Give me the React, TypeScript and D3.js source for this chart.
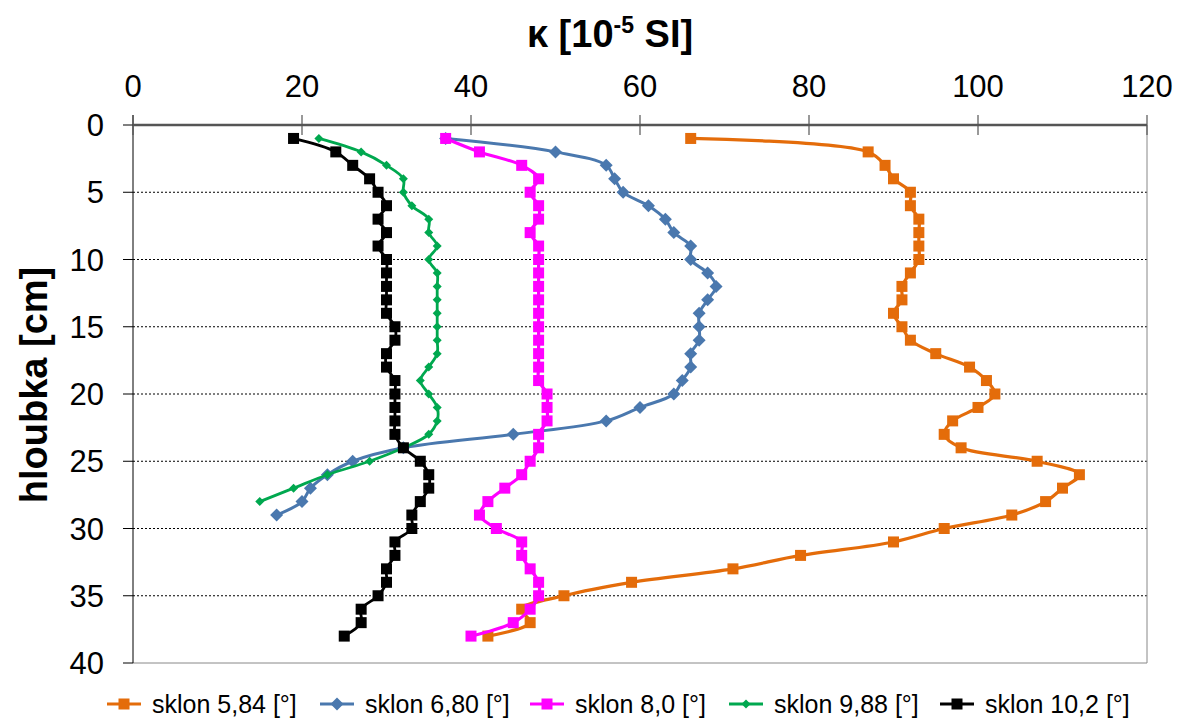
import React, { useEffect, useRef } from 'react';
import * as d3 from 'd3';

// hloubka [cm]
const depths = [1, 2, 3, 4, 5, 6, 7, 8, 9, 10, 11, 12, 13, 14, 15, 16, 17, 18, 19, 20,
  21, 22, 23, 24, 25, 26, 27, 28, 29, 30, 31, 32, 33, 34, 35, 36, 37, 38];

const sklon584 = [66, 87, 89, 90, 92, 92, 93, 93, 93, 93, 92, 91, 91, 90, 91, 92, 95, 99, 101, 102,
  100, 97, 96, 98, 107, 112, 110, 108, 104, 96, 90, 79, 71, 59, 51, 46, 47, 42];
const sklon680 = [37, 50, 56, 57, 58, 61, 63, 64, 66, 66, 68, 69, 68, 67, 67, 67, 66, 66, 65, 64,
  60, 56, 45, 32, 26, 23, 21, 20, 17];
const sklon80 = [37, 41, 46, 48, 47, 48, 48, 47, 48, 48, 48, 48, 48, 48, 48, 48, 48, 48, 48, 49,
  49, 49, 48, 48, 47, 46, 44, 42, 41, 43, 46, 46, 47, 48, 48, 47, 45, 40];
const sklon988 = [22, 27, 30, 32, 32, 33, 35, 35, 36, 35, 36, 36, 36, 36, 36, 36, 36, 35, 34, 35,
  36, 36, 35, 32, 28, 23, 19, 15];
const sklon102 = [19, 24, 26, 28, 29, 30, 29, 30, 29, 30, 30, 30, 30, 30, 31, 31, 30, 30, 31, 31,
  31, 31, 31, 32, 34, 35, 35, 34, 33, 33, 31, 31, 30, 30, 29, 27, 27, 25];

const seriesNames = ['sklon 5,84 [°]', 'sklon 6,80 [°]', 'sklon 8,0 [°]', 'sklon 9,88 [°]', 'sklon 10,2 [°]'];
const xTicks = [0, 20, 40, 60, 80, 100, 120];
const yTicks = [0, 5, 10, 15, 20, 25, 30, 35, 40];

const series = [
  { name: seriesNames[0], values: sklon584, color: '#E46C0A', marker: 'square', size: 11, width: 3.2 },
  { name: seriesNames[1], values: sklon680, color: '#4A78AE', marker: 'diamond', size: 13, width: 3 },
  { name: seriesNames[2], values: sklon80, color: '#FF00FF', marker: 'square', size: 11, width: 3.2 },
  { name: seriesNames[3], values: sklon988, color: '#00A84F', marker: 'diamond', size: 9, width: 2.8 },
  { name: seriesNames[4], values: sklon102, color: '#000000', marker: 'square', size: 11, width: 2.8 },
];

const FONT = 'Arial, "Liberation Sans", sans-serif';

export default function App() {
  const svgRef = useRef<SVGSVGElement>(null);

  useEffect(() => {
    if (!svgRef.current) return;
    const svg = d3.select(svgRef.current);
    svg.selectAll('*').remove();

    const left = 133, right = 1147, top = 125, bottom = 663;

    const x = d3.scaleLinear().domain([0, 120]).range([left, right]);
    const y = d3.scaleLinear().domain([0, 40]).range([top, bottom]);

    svg.append('rect').attr('width', 1184).attr('height', 720).attr('fill', '#fff');

    // grid
    svg.append('g').selectAll('line')
      .data(yTicks.filter(t => t > 0 && t < 40))
      .enter().append('line')
      .attr('x1', left).attr('x2', right)
      .attr('y1', d => y(d)).attr('y2', d => y(d))
      .attr('stroke', '#000').attr('stroke-width', 1)
      .attr('stroke-dasharray', '2,2');

    // plot border (right, bottom)
    svg.append('line').attr('x1', right).attr('x2', right).attr('y1', top).attr('y2', bottom)
      .attr('stroke', '#888').attr('stroke-width', 1);
    svg.append('line').attr('x1', left).attr('x2', right).attr('y1', bottom).attr('y2', bottom)
      .attr('stroke', '#888').attr('stroke-width', 1);

    // y axis
    svg.append('line').attr('x1', left).attr('x2', left).attr('y1', top - 10).attr('y2', bottom)
      .attr('stroke', '#000').attr('stroke-width', 1);
    const yT = svg.append('g');
    yT.selectAll('line').data(yTicks).enter().append('line')
      .attr('x1', left - 10).attr('x2', left)
      .attr('y1', d => y(d)).attr('y2', d => y(d))
      .attr('stroke', '#000').attr('stroke-width', 1);
    yT.selectAll('text').data(yTicks).enter().append('text')
      .attr('x', 104).attr('y', d => y(d)).attr('dy', '0.36em')
      .attr('text-anchor', 'end')
      .attr('font-family', FONT).attr('font-size', 31).attr('fill', '#000')
      .text(d => d);

    // top x axis
    svg.append('line').attr('x1', left).attr('x2', right).attr('y1', top).attr('y2', top)
      .attr('stroke', '#555').attr('stroke-width', 2.5);
    const xT = svg.append('g');
    xT.selectAll('line').data(xTicks).enter().append('line')
      .attr('x1', d => x(d)).attr('x2', d => x(d))
      .attr('y1', top - 10).attr('y2', top + 10)
      .attr('stroke', '#555').attr('stroke-width', 1.2);
    xT.selectAll('text').data(xTicks).enter().append('text')
      .attr('x', d => x(d)).attr('y', 97)
      .attr('text-anchor', 'middle')
      .attr('font-family', FONT).attr('font-size', 31).attr('fill', '#000')
      .text(d => d);

    // axis titles
    const title = svg.append('text')
      .attr('x', 610).attr('y', 47).attr('text-anchor', 'middle')
      .attr('font-family', FONT).attr('font-size', 38).attr('font-weight', 'bold');
    title.append('tspan').text('κ [10');
    title.append('tspan').attr('font-size', 23).attr('dy', -14).text('-5');
    title.append('tspan').attr('dy', 14).text(' SI]');

    svg.append('text')
      .attr('transform', `translate(47,385) rotate(-90)`)
      .attr('text-anchor', 'middle')
      .attr('font-family', FONT).attr('font-size', 38).attr('font-weight', 'bold')
      .text('hloubka [cm]');

    const line = d3.line<number>()
      .x(d => x(d))
      .y((d, i) => y(depths[i]))
      .curve(d3.curveCatmullRom.alpha(0.5));

    const drawMarker = (g: d3.Selection<SVGGElement, unknown, null, undefined>, s: typeof series[0], cx: number, cy: number) => {
      if (s.marker === 'square') {
        g.append('rect')
          .attr('x', cx - s.size / 2).attr('y', cy - s.size / 2)
          .attr('width', s.size).attr('height', s.size)
          .attr('fill', s.color);
      } else {
        const h = s.size / 2;
        g.append('path')
          .attr('d', `M${cx},${cy - h}L${cx + h},${cy}L${cx},${cy + h}L${cx - h},${cy}Z`)
          .attr('fill', s.color);
      }
    };

    series.forEach(s => {
      const g = svg.append('g');
      g.append('path')
        .datum(s.values)
        .attr('d', line)
        .attr('fill', 'none')
        .attr('stroke', s.color)
        .attr('stroke-width', s.width)
        .attr('stroke-linejoin', 'round');
      s.values.forEach((v, i) => drawMarker(g, s, x(v), y(depths[i])));
    });

    // legend
    const legendX = [107, 320, 530, 729, 940];
    const ly = 704;
    series.forEach((s, i) => {
      const g = svg.append('g');
      g.append('line')
        .attr('x1', legendX[i]).attr('x2', legendX[i] + 34)
        .attr('y1', ly).attr('y2', ly)
        .attr('stroke', s.color).attr('stroke-width', s.width);
      drawMarker(g, s, legendX[i] + 17, ly);
      g.append('text')
        .attr('x', legendX[i] + 45).attr('y', ly).attr('dy', '0.36em')
        .attr('font-family', FONT).attr('font-size', 25).attr('fill', '#000')
        .text(s.name);
    });
  }, []);

  return (
    <svg ref={svgRef} width={1184} height={720}
      style={{ position: 'absolute', left: 0, top: 0, display: 'block' }} />
  );
}
